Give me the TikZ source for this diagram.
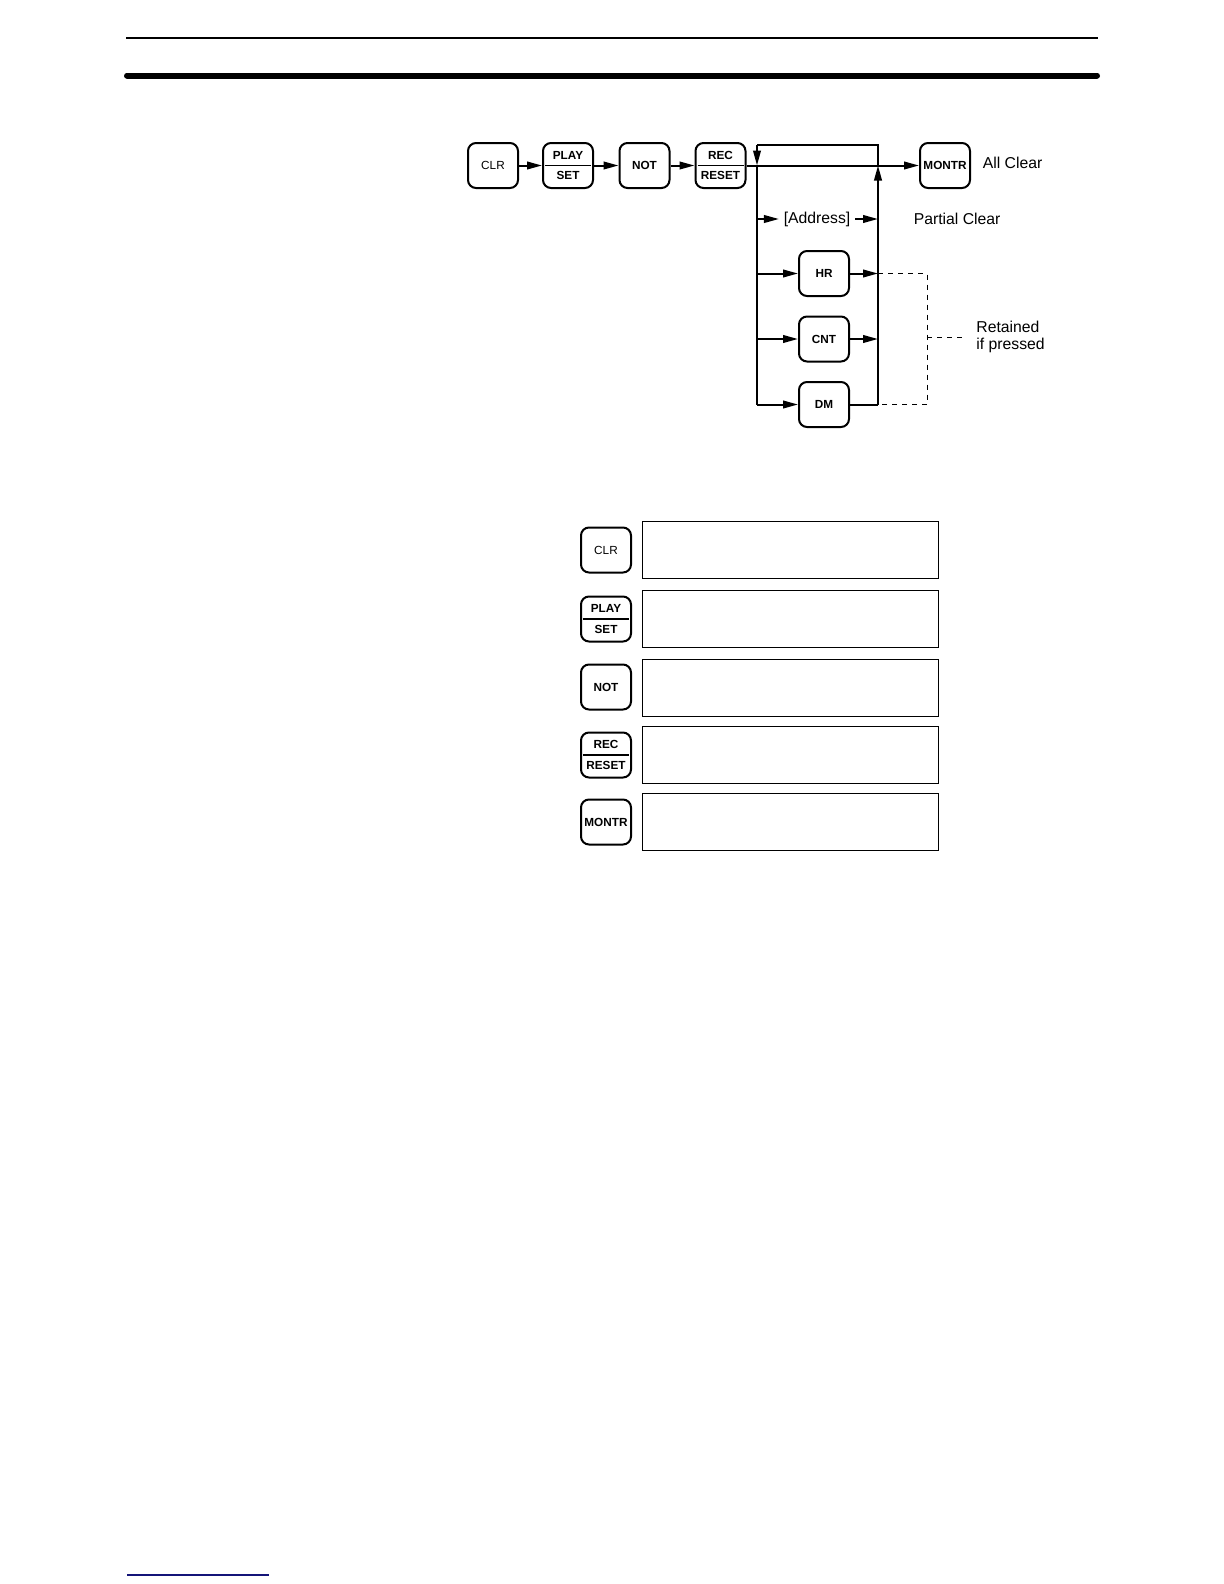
\documentclass[tikz,border=0pt]{standalone}
\usepackage{fontspec}
\setmainfont{Liberation Sans}
\usetikzlibrary{arrows.meta}

\newcommand{\keyfont}{\fontsize{5.9}{6}\selectfont\bfseries}
\newcommand{\keyregular}{\fontsize{5.9}{6}\selectfont}
\newcommand{\labelfont}{\fontsize{7.9}{8.2}\selectfont}

\tikzset{
  key/.style={draw, rounded corners=4bp, line width=1bp, minimum width=25bp,
    minimum height=22.5bp, inner sep=0pt, font=\keyfont},
  panel/.style={draw, line width=0.5bp, minimum width=148bp, minimum height=28.5bp},
  flow/.style={line width=1bp},
  arr/.style={flow, -{Triangle[length=7.5bp, width=3.8bp]}},
  hint/.style={line width=0.5bp, dash pattern=on 2.5bp off 2.5bp},
  txt/.style={font=\labelfont, inner sep=1.2bp}
}

% key with a divider and two labels
\newcommand{\splitkey}[4]{%
  \node[key] (#1) at (#2) {};
  \draw[line width=0.7bp] ([xshift=1.5bp]#1.west) -- ([xshift=-1.5bp]#1.east);
  \node[font=\keyfont] at ([yshift=5.2bp]#1.center) {#3};
  \node[font=\keyfont] at ([yshift=-5.2bp]#1.center) {#4};
}

\begin{document}
\begin{tikzpicture}[x=0.5bp, y=-0.5bp]
\useasboundingbox (0,0) rectangle (1224,1584);

% Rules at the top and bottom of the page
\draw[line width=1bp] (126,38) -- (1098,38);
\draw[line width=3bp, line cap=round] (127,75.5) -- (1097,75.5);
\draw[line width=0.8bp, color={rgb,255:red,20;green,20;blue,120}] (127,1575) -- (269,1575);

% Key sequence
\node[key, font=\keyregular] (clr) at (493,165.5) {CLR};
\splitkey{play}{568,165.5}{PLAY}{SET}
\node[key] (not) at (644.5,165.5) {NOT};
\splitkey{rec}{720.5,165.5}{REC}{RESET}
\node[key] (montr) at (945,165.5) {MONTR};

\draw[arr] (clr) -- (play);
\draw[arr] (play) -- (not);
\draw[arr] (not) -- (rec);
\draw[arr] (rec.east) -- (montr.west);

\node[txt, anchor=west] (allclear) at (980,163) {All Clear};

% Loop round the optional keys
\coordinate (lt) at (757,145);
\coordinate (rt) at (878,145);
\coordinate (ljoin) at (757,165.5);
\coordinate (rjoin) at (878,165.5);
\coordinate (lb) at (757,404.5);
\coordinate (rb) at (878,404.5);

\draw[flow] (rjoin) -- (rt) -- (lt);
\draw[arr] (lt) -- (ljoin);
\draw[flow] (ljoin) -- (lb);
\draw[arr] (rb) -- (rjoin);

\node[txt, inner xsep=2.2bp] (addr) at (817,219) {[Address]};
\coordinate (addr-l) at (757,219);
\coordinate (addr-r) at (878,219);
\draw[arr] (addr-l) -- (addr.west);
\draw[arr] (addr.east) -- (addr-r);
\node[txt, anchor=west] (partial) at (911,219) {Partial Clear};

\foreach \y/\name/\lbl in {273.5/hr/HR, 339/cnt/CNT, 404.5/dm/DM} {
    \node[key] (\name) at (824,\y) {\lbl};
    \coordinate (\name-l) at (757,\y);
    \coordinate (\name-r) at (878,\y);
    \draw[arr] (\name-l) -- (\name);
}
\draw[arr] (hr) -- (hr-r);
\draw[arr] (cnt) -- (cnt-r);
\draw[flow] (dm) -- (dm-r);

% Retained keys
\coordinate (dtop) at (927,273.5);
\coordinate (dmid) at (927,337);
\coordinate (dend) at (963,337);
\coordinate (dbot) at (927,404.5);
\node[txt, anchor=west, align=left, inner sep=0pt] (retained) at (976,337) {Retained\\if pressed};
\draw[hint] (hr-r) -- (dtop) -- (dbot) -- (dm-r);
\draw[hint] (dmid) -- (dend);

% Keys with empty display boxes
\foreach \y/\name in {549.5/a, 619/b, 687.5/c, 754.5/d, 821.5/e}
    \node[panel] (panel-\name) at (790,\y) {};

\node[key, font=\keyregular] (clr2) at (606,550) {CLR};
\splitkey{play2}{606,619}{PLAY}{SET}
\node[key] (not2) at (606,687) {NOT};
\splitkey{rec2}{606,755}{REC}{RESET}
\node[key] (montr2) at (606,822) {MONTR};

\end{tikzpicture}
\end{document}
